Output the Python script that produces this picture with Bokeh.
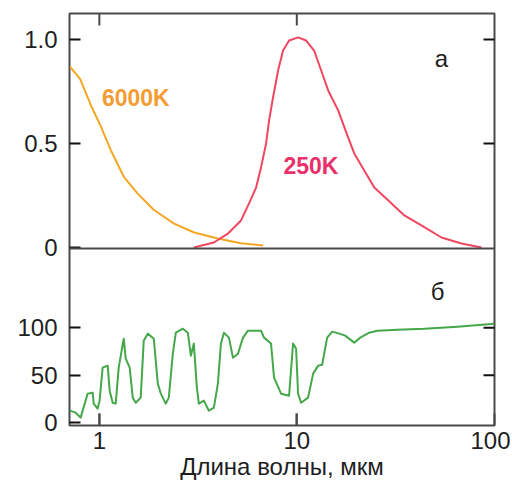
import math
from bokeh.plotting import figure
from bokeh.models import Range1d, FixedTicker, CustomJSTickFormatter, Span, Label
from bokeh.embed import file_html
from bokeh.resources import INLINE

# ---- data ----
wl_6000 = [0.71, 0.80, 0.90, 1.02, 1.14, 1.33, 1.56, 1.89, 2.39, 3.02, 3.98, 5.2, 6.76]
rad_6000 = [0.87, 0.81, 0.69, 0.58, 0.47, 0.34, 0.26, 0.18, 0.115, 0.072, 0.043, 0.02, 0.01]

wl_250 = [3.01, 3.80, 4.48, 5.22, 5.73, 6.22, 6.59, 6.99, 7.24, 7.58, 8.04, 8.52, 9.14,
          10.15, 11.15, 12.24, 13.29, 14.42, 16.20, 17.80, 19.54, 21.96, 24.69, 29.08,
          35.05, 42.76, 54.02, 68.24, 86.2]
rad_250 = [0.0, 0.024, 0.067, 0.130, 0.212, 0.288, 0.385, 0.500, 0.611, 0.721, 0.851, 0.947,
           0.995, 1.010, 0.995, 0.947, 0.851, 0.755, 0.659, 0.553, 0.452, 0.370, 0.288,
           0.226, 0.154, 0.106, 0.048, 0.019, 0.0]

wl_trans = [0.71, 0.758, 0.804, 0.832, 0.872, 0.925, 0.936, 0.980, 1.003, 1.039, 1.102,
            1.128, 1.168, 1.210, 1.253, 1.329, 1.360, 1.425, 1.476, 1.529, 1.620, 1.678,
            1.759, 1.887, 1.977, 2.048, 2.170, 2.248, 2.356, 2.440, 2.648, 2.807, 2.907,
            3.010, 3.118, 3.192, 3.383, 3.587, 3.803, 3.984, 4.127, 4.275, 4.532, 4.749,
            5.035, 5.339, 5.659, 6.590, 6.823, 7.404, 7.670, 8.324, 9.139, 9.576, 9.918,
            10.15, 10.51, 11.41, 12.10, 12.83, 13.44, 14.25, 15.11, 16.40, 17.59, 19.54,
            20.96, 23.28, 25.56, 32.29, 44.29, 65.1, 100.0]
trans = [12.6, 10.5, 5.3, 15.8, 30.5, 31.6, 20, 14.7, 23.2, 57.9, 60,
         33.7, 21, 20, 57.9, 88.4, 67.4, 57.9, 26.3, 21, 26.3, 86.3,
         93.7, 88.4, 41.1, 30.5, 20, 26.3, 72.6, 94.7, 98.9, 94.7, 70.5,
         83.2, 36.8, 20, 23.2, 12.6, 15.8, 41.1, 83.2, 94.7, 89.5, 68.4,
         72.6, 89.5, 96.8, 96.8, 89.5, 83.2, 47.4, 30.5, 28.4, 83.2, 77.9,
         30.5, 21, 26.3, 51.6, 60, 61, 89.5, 95.8, 93.7, 91.6, 84.2,
         89.5, 94.7, 96.8, 97.9, 98.9, 101, 104.2]

x_ticks = [1, 10, 100]
top_ticks = [0, 0.5, 1.0]
top_tick_labels = ["0", "0.5", "1.0"]
bot_ticks = [0, 50, 100]
bot_tick_labels = ["0", "50", "100"]
x_label = "Длина волны, мкм"

# ---- layout constants ----
W, H = 510, 487
BORDER_L, BORDER_R, BORDER_T, BORDER_B = 69, 16, 13, 62
FRAME_W = W - BORDER_L - BORDER_R
FRAME_H = H - BORDER_T - BORDER_B
X_RANGE = (0.706, 100.3)
TOP_RANGE = (-0.856, 1.125)
BOT_RANGE = (-3.0, 430.7)
SPLIT = -0.005
TICK_X_PX = 12
TICK_Y_PX = 11
FONT = "Liberation Sans"
DARK = "#4a4a4a"
TXT = "#1e1e1e"


def to_bot(v):
    return BOT_RANGE[0] + (v - TOP_RANGE[0]) * (BOT_RANGE[1] - BOT_RANGE[0]) / (TOP_RANGE[1] - TOP_RANGE[0])


p = figure(width=W, height=H, x_axis_type="log",
           x_range=Range1d(*X_RANGE), y_range=Range1d(*BOT_RANGE),
           output_backend="svg", toolbar_location=None,
           min_border_top=BORDER_T, min_border_left=BORDER_L,
           min_border_right=BORDER_R, min_border_bottom=BORDER_B)
p.extra_y_ranges = {"top": Range1d(*TOP_RANGE)}
p.grid.visible = False
p.outline_line_color = DARK
p.outline_line_width = 2
p.background_fill_color = "white"
p.border_fill_color = "white"

# bottom axis
xa = p.xaxis[0]
xa.ticker = FixedTicker(ticks=x_ticks)
xa.major_label_overrides = {1: "1", 10: "10", 100: "100"}
xa.minor_tick_line_color = None
xa.major_tick_in = TICK_X_PX
xa.major_tick_out = 0
xa.major_tick_line_color = DARK
xa.major_tick_line_width = 2
xa.axis_line_color = None
xa.major_label_standoff = 6
xa.major_label_text_font = FONT
xa.major_label_text_font_size = "24px"
xa.major_label_text_color = TXT
xa.axis_label = x_label
xa.axis_label_text_font = FONT
xa.axis_label_text_font_size = "24px"
xa.axis_label_text_font_style = "normal"
xa.axis_label_text_color = TXT
xa.axis_label_standoff = 1

# left axis (both panels)
left_vals = bot_ticks + [to_bot(v) for v in top_ticks]
left_labels = bot_tick_labels + top_tick_labels
ya = p.yaxis[0]
ya.ticker = FixedTicker(ticks=left_vals)
ya.formatter = CustomJSTickFormatter(args=dict(vals=left_vals, labels=left_labels), code="""
let best = 0;
for (let i = 0; i < vals.length; i++) {
  if (Math.abs(vals[i] - tick) < Math.abs(vals[best] - tick)) best = i;
}
return labels[best];
""")
ya.minor_tick_line_color = None
ya.major_tick_in = TICK_Y_PX
ya.major_tick_out = 0
ya.major_tick_line_color = "#111111"
ya.major_tick_line_width = 2
ya.axis_line_color = None
ya.major_label_standoff = 12
ya.major_label_text_font = FONT
ya.major_label_text_font_size = "24px"
ya.major_label_text_color = TXT

# mirrored tick marks on top, bottom and right frame edges
xt = x_ticks[:2]
dy_top = TICK_X_PX * (TOP_RANGE[1] - TOP_RANGE[0]) / FRAME_H
dy_bot = TICK_X_PX * (BOT_RANGE[1] - BOT_RANGE[0]) / FRAME_H
kx = 10 ** (TICK_Y_PX * math.log10(X_RANGE[1] / X_RANGE[0]) / FRAME_W)
p.segment(x0=xt, y0=[TOP_RANGE[1]] * 2, x1=xt, y1=[TOP_RANGE[1] - dy_top] * 2,
          y_range_name="top", line_color=DARK, line_width=2)
p.segment(x0=xt, y0=[BOT_RANGE[0]] * 2, x1=xt, y1=[BOT_RANGE[0] + dy_bot] * 2,
          line_color=DARK, line_width=2)
p.segment(x0=[X_RANGE[1]] * 2, y0=top_ticks[1:], x1=[X_RANGE[1] / kx] * 2, y1=top_ticks[1:],
          y_range_name="top", line_color="#111111", line_width=2)
p.segment(x0=[X_RANGE[1]] * 2, y0=bot_ticks[1:], x1=[X_RANGE[1] / kx] * 2, y1=bot_ticks[1:],
          line_color="#111111", line_width=2)

# divider between panels
p.add_layout(Span(location=SPLIT, dimension="width", y_range_name="top",
                  line_color=DARK, line_width=2))

# curves
p.line(wl_6000, rad_6000, y_range_name="top", line_color="#f5a623", line_width=2, line_join="round")
p.line(wl_250, rad_250, y_range_name="top", line_color="#f0465f", line_width=2, line_join="round")
p.line(wl_trans, trans, line_color="#44a84a", line_width=2, line_join="round")

# annotations
p.add_layout(Label(x=1.53, y=0.72, y_range_name="top", text="6000K", text_font=FONT,
                   text_font_size="23px", text_font_style="bold", text_color="#f39c32",
                   text_align="center", text_baseline="middle"))
p.add_layout(Label(x=11.8, y=0.39, y_range_name="top", text="250K", text_font=FONT,
                   text_font_size="23px", text_font_style="bold", text_color="#e8306a",
                   text_align="center", text_baseline="middle"))
p.add_layout(Label(x=54, y=0.91, y_range_name="top", text="а", text_font=FONT,
                   text_font_size="24px", text_color=TXT,
                   text_align="center", text_baseline="middle"))
p.add_layout(Label(x=51.6, y=138, text="б", text_font=FONT,
                   text_font_size="24px", text_color=TXT,
                   text_align="center", text_baseline="middle"))

open("out.html", "w").write(file_html(p, INLINE))
